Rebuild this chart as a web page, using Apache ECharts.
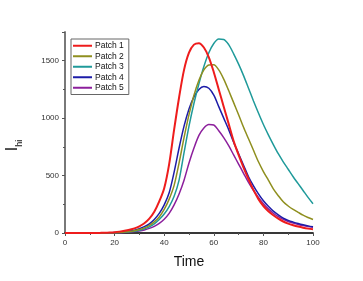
<!DOCTYPE html>
<html><head><meta charset="utf-8">
<script src="https://cdn.jsdelivr.net/npm/echarts@6/dist/echarts.min.js"></script>
<style>html,body{margin:0;padding:0;background:#fff}#c{width:363px;height:281px}</style>
</head><body><div id="c"></div>
<script>
var time = [0,2,4,6,8,10,12,14,16,18,20,22,24,26,28,30,32,34,36,38,40,42,44,46,48,50,52,54,56,58,60,62,64,66,68,70,72,74,76,78,80,82,84,86,88,90,92,94,96,98,100];
var patch1 = [0,0,0,0,0,0,0,1,2,4,7,12,19,28,40,58,85,125,185,275,390,600,900,1180,1420,1570,1640,1652,1615,1530,1400,1250,1100,950,800,680,570,470,375,295,235,190,155,125,100,82,68,56,46,38,32];
var patch2 = [0,0,0,0,0,0,0,0,1,2,3,5,8,13,20,30,45,66,97,140,205,295,415,610,830,1030,1200,1330,1420,1462,1465,1420,1340,1240,1135,1030,920,820,720,620,535,460,385,325,272,235,205,180,155,135,117];
var patch3 = [0,0,0,0,0,0,0,0,1,1,2,4,6,10,16,24,36,54,80,118,165,230,320,461,700,930,1130,1300,1450,1570,1650,1688,1685,1640,1560,1470,1370,1260,1150,1045,945,855,770,690,620,555,490,430,370,310,255];
var patch4 = [0,0,0,0,0,0,0,1,1,2,4,7,11,17,25,37,55,80,118,171,245,350,530,740,930,1080,1185,1250,1275,1260,1200,1100,1000,900,790,690,590,490,410,340,280,232,190,158,130,110,95,82,71,62,54];
var patch5 = [0,0,0,0,0,0,0,0,0,1,2,3,5,8,12,18,27,40,58,84,120,171,245,340,460,610,740,850,915,945,940,890,830,760,680,600,520,440,370,310,255,210,172,142,118,100,86,74,65,57,50];
var names = ['Patch 1','Patch 2','Patch 3','Patch 4','Patch 5'];
var colors = ['#ee1c1c','#8f8f1f','#1f9a9a','#1c1ca8','#8c1f9c'];
var widths = [2,1.5,1.5,1.5,1.5];
var xTicks = [0,20,40,60,80,100];
var yTicks = [0,500,1000,1500];

var all = [patch1,patch2,patch3,patch4,patch5];
function pairs(v){ return time.map(function(t,i){return [t,v[i]];}); }
var series = all.map(function(v,k){
  return {name:names[k], type:'line', data:pairs(v), symbol:'none', smooth:0.3,
    lineStyle:{color:colors[k], width:widths[k]}, itemStyle:{color:colors[k]}, z: 10-k};
});
var font = 'Liberation Sans, Arial, sans-serif';
var chart = echarts.init(document.getElementById('c'), null, {renderer:'canvas'});
chart.setOption({
  animation:false,
  backgroundColor:'#fff',
  grid:{left:65, right:50, top:32, bottom:48, containLabel:false, outerBoundsMode:'none'},
  legend:{orient:'vertical', left:71, top:39, icon:'rect', itemWidth:19, itemHeight:2, itemGap:1,
    padding:[2,5,2,2], borderColor:'#666', borderWidth:1, backgroundColor:'#fff',
    textStyle:{fontFamily:font, fontSize:8.5, lineHeight:9.5, color:'#111', padding:[0,0,0,-2]},
    data:names},
  xAxis:[{type:'value', min:0, max:100, interval:20, position:'bottom',
    name:'Time', nameLocation:'middle', nameGap:22,
    nameTextStyle:{fontFamily:font, fontSize:14, color:'#111'},
    axisLine:{lineStyle:{color:'#555', width:1.5}},
    axisTick:{length:3, lineStyle:{color:'#555'}},
    minorTick:{show:true, splitNumber:2, length:2, lineStyle:{color:'#555'}},
    axisLabel:{fontFamily:font, fontSize:8, color:'#333', margin:6,
      formatter:function(v){return xTicks.indexOf(v)>=0?String(v):'';}},
    splitLine:{show:false}},
   {type:'value', min:0, max:100, interval:20, position:'top',
    axisLine:{lineStyle:{color:'#222', width:1.5}},
    axisTick:{inside:true, length:3, lineStyle:{color:'#555'}},
    minorTick:{show:true, splitNumber:2, length:2, lineStyle:{color:'#555'}},
    axisLabel:{show:false}, splitLine:{show:false}}],
  yAxis:[{type:'value', min:0, max:1750, interval:500,
    name:'{a|I}{b|hi}', nameLocation:'middle', nameGap:44, nameRotate:90,
    nameTextStyle:{padding:[0,26,0,0], rich:{
      a:{fontFamily:font, fontSize:16, color:'#111', verticalAlign:'bottom', lineHeight:18},
      b:{fontFamily:font, fontSize:9, color:'#111', verticalAlign:'bottom', lineHeight:12, padding:[0,0,-3,0]}}},
    axisLine:{show:true, lineStyle:{color:'#555', width:1.5}},
    axisTick:{show:true, length:3, lineStyle:{color:'#555'}},
    minorTick:{show:true, splitNumber:2, length:2, lineStyle:{color:'#555'}},
    axisLabel:{fontFamily:font, fontSize:8, color:'#333', margin:6,
      formatter:function(v){return yTicks.indexOf(v)>=0?String(v):'';}},
    splitLine:{show:false}},
   {type:'value', min:0, max:1750, interval:500, position:'right',
    axisLine:{show:true, lineStyle:{color:'#777', width:1.5}},
    axisTick:{show:true, inside:true, length:3, lineStyle:{color:'#555'}},
    axisLabel:{show:false}, splitLine:{show:false}}],
  series:series
});
</script></body></html>
